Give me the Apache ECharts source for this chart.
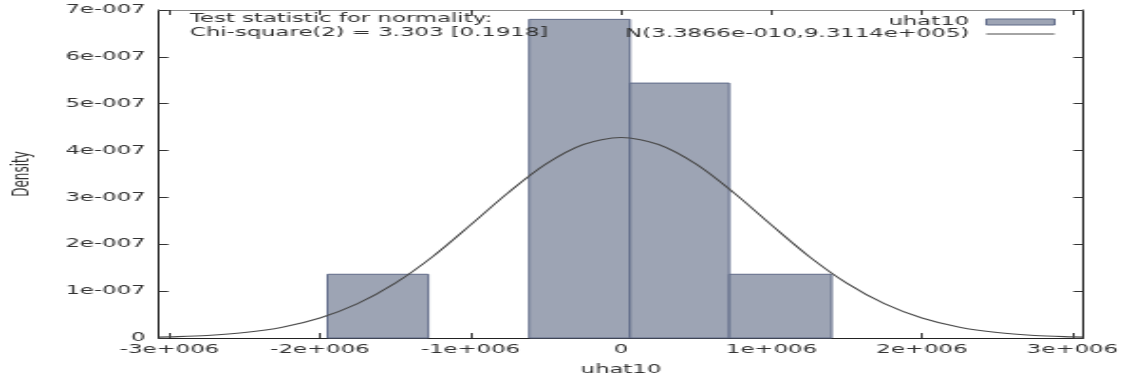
<!DOCTYPE html>
<html>
<head>
<meta charset="utf-8">
<title>uhat10 - test for normality</title>
<script src="https://cdn.jsdelivr.net/npm/echarts@6/dist/echarts.min.js"></script>
<style>
  html, body { margin: 0; padding: 0; background: #fff; overflow: hidden; }
  /* the original plot is stretched horizontally, so draw narrow and widen */
  #chart { width: 592px; height: 378px; transform: scaleX(1.8986); transform-origin: 0 0; }
</style>
</head>
<body>
<div id="chart"></div>
<script>
// histogram of uhat10: left edge, right edge, density
const binStart = [-1.95e6, -0.61e6, 0.06e6, 0.72e6];
const binEnd = [-1.28e6, 0.06e6, 0.72e6, 1.40e6];
const binDensity = [1.36e-7, 6.80e-7, 5.44e-7, 1.36e-7];

// normal curve N(3.3866e-010, 9.3114e+005)
const curveX = [-3.07e6, -3.0e6, -2.75e6, -2.5e6, -2.25e6, -2.0e6, -1.75e6, -1.5e6, -1.25e6, -1.0e6, -0.75e6, -0.5e6, -0.25e6,
    0, 0.25e6, 0.5e6, 0.75e6, 1.0e6, 1.25e6, 1.5e6, 1.75e6, 2.0e6, 2.25e6, 2.5e6, 2.75e6, 3.0e6, 3.07e6];
const curveY = [1.9e-9, 2.4e-9, 5.5e-9, 1.17e-8, 2.31e-8, 4.27e-8, 7.33e-8, 1.17e-7, 1.74e-7, 2.41e-7, 3.10e-7, 3.71e-7, 4.13e-7,
    4.28e-7, 4.13e-7, 3.71e-7, 3.10e-7, 2.41e-7, 1.74e-7, 1.17e-7, 7.33e-8, 4.27e-8, 2.31e-8, 1.17e-8, 5.5e-9, 2.4e-9, 1.9e-9];

const xTickValues = [-3e6, -2e6, -1e6, 0, 1e6, 2e6, 3e6];
const xTickLabels = ["-3e+006", "-2e+006", "-1e+006", "0", "1e+006", "2e+006", "3e+006"];
const yTickValues = [0, 1e-7, 2e-7, 3e-7, 4e-7, 5e-7, 6e-7, 7e-7];
const yTickLabels = ["0", "1e-007", "2e-007", "3e-007", "4e-007", "5e-007", "6e-007", "7e-007"];

const seriesName = "uhat10";
const curveName = "N(3.3866e-010,9.3114e+005)";
const testText = ["Test statistic for normality:", "Chi-square(2) = 3.303 [0.1918]"];

const font = "DejaVu Sans";
const textColor = "#333";
const barFill = "#9da4b4";
const barEdge = "#5f6a88";
const curveColor = "#4a4a4a";
const xMin = -3.07e6, xMax = 3.07e6;

const chart = echarts.init(document.getElementById("chart"));

function tickLabel(values, labels) {
    return function (v) {
        const i = values.indexOf(v);
        return i < 0 ? "" : labels[i];
    };
}

// bottom/left axes carry the labels, top/right only mirror the ticks
function xAxisOpt(position, showLabel, lineColor) {
    return {
        type: "value",
        position: position,
        min: xMin,
        max: xMax,
        name: showLabel ? seriesName : "",
        nameLocation: "middle",
        nameGap: 26,
        nameTextStyle: { fontFamily: font, fontSize: 12, color: textColor },
        axisLine: { show: true, onZero: false, lineStyle: { color: lineColor, width: 1 } },
        axisTick: { show: true, inside: true, length: 5, customValues: xTickValues, lineStyle: { color: "#333" } },
        axisLabel: {
            show: showLabel,
            customValues: xTickValues,
            margin: 6,
            fontFamily: font,
            fontSize: 12,
            color: textColor,
            formatter: tickLabel(xTickValues, xTickLabels),
        },
        splitLine: { show: false },
    };
}

function yAxisOpt(position, showLabel, lineColor) {
    return {
        type: "value",
        position: position,
        min: 0,
        max: 7e-7,
        name: showLabel ? "Density" : "",
        nameLocation: "middle",
        nameGap: 66,
        nameTextStyle: { fontFamily: font, fontSize: 12, color: textColor },
        axisLine: { show: true, onZero: false, lineStyle: { color: lineColor, width: 1 } },
        axisTick: { show: true, inside: true, length: 5, customValues: yTickValues, lineStyle: { color: "#333" } },
        axisLabel: {
            show: showLabel,
            customValues: yTickValues,
            margin: 7,
            fontFamily: font,
            fontSize: 12,
            color: textColor,
            formatter: tickLabel(yTickValues, yTickLabels),
        },
        splitLine: { show: false },
    };
}

const option = {
    animation: false,
    backgroundColor: "#fff",
    // keep the plot box exactly where it is, don't let names push it around
    grid: { left: 83.7, right: 21.6, top: 10, bottom: 40, containLabel: false, outerBoundsMode: "none" },
    xAxis: [xAxisOpt("bottom", true, "#222"), xAxisOpt("top", false, "#8a8a8a")],
    yAxis: [yAxisOpt("left", true, "#222"), yAxisOpt("right", false, "#222")],
    legend: {
        orient: "vertical",
        align: "right",
        right: 36,
        top: 16,
        padding: 0,
        itemGap: 0,
        itemWidth: 36,
        itemHeight: 6,
        textStyle: { fontFamily: font, fontSize: 12, color: textColor, lineHeight: 12, padding: [0, 4, 0, 0] },
        data: [
            { name: seriesName, icon: "rect", itemStyle: { color: barFill, borderColor: barEdge, borderWidth: 1 } },
            {
                name: curveName,
                itemStyle: { color: "rgba(0,0,0,0)", borderColor: "rgba(0,0,0,0)", borderWidth: 0 },
                lineStyle: { color: curveColor, width: 1.1 },
            },
        ],
    },
    graphic: [
        {
            type: "text",
            left: 100,
            top: 12,
            z: 100,
            style: {
                text: testText.join("\n"),
                font: "12px " + font,
                lineHeight: 14,
                fill: textColor,
            },
        },
    ],
    series: [
        {
            name: seriesName,
            type: "custom",
            xAxisIndex: 0,
            yAxisIndex: 0,
            encode: { x: [0, 1], y: 2 },
            data: binStart.map((s, i) => [s, binEnd[i], binDensity[i]]),
            itemStyle: { color: barFill, borderColor: barEdge, borderWidth: 1 },
            renderItem: function (params, api) {
                const topLeft = api.coord([api.value(0), api.value(2)]);
                const bottomRight = api.coord([api.value(1), 0]);
                return {
                    type: "rect",
                    shape: {
                        x: topLeft[0],
                        y: topLeft[1],
                        width: bottomRight[0] - topLeft[0],
                        height: bottomRight[1] - topLeft[1],
                    },
                    style: { fill: barFill, stroke: barEdge, lineWidth: 1 },
                };
            },
        },
        {
            name: curveName,
            type: "line",
            xAxisIndex: 0,
            yAxisIndex: 0,
            data: curveX.map((x, i) => [x, curveY[i]]),
            smooth: 0.3,
            symbol: "none",
            z: 3,
            lineStyle: { color: curveColor, width: 1.1 },
            itemStyle: { color: curveColor },
        },
    ],
};

chart.setOption(option);
</script>
</body>
</html>
